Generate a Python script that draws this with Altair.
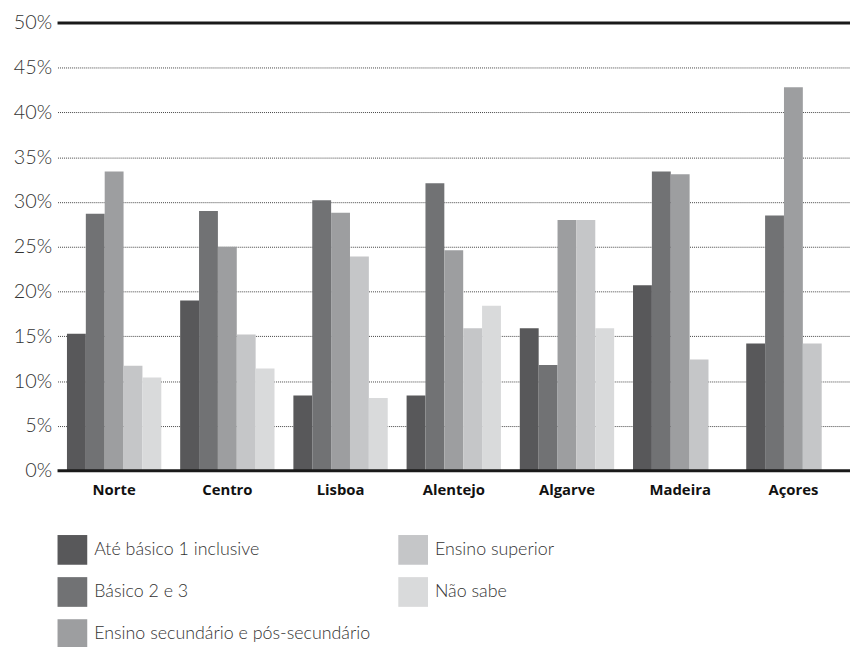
import altair as alt
import pandas as pd

regioes = ["Norte", "Centro", "Lisboa", "Alentejo", "Algarve", "Madeira", "Açores"]
series = ["Até básico 1 inclusive", "Básico 2 e 3", "Ensino secundário e pós-secundário",
          "Ensino superior", "Não sabe"]
cores = ["#58585a", "#717274", "#9d9ea0", "#c5c6c8", "#d9dadb"]

ate_basico1 = [15.3, 19.0, 8.4, 8.4, 15.9, 20.7, 14.2]
basico23 = [28.7, 29.0, 30.2, 32.1, 11.8, 33.4, 28.5]
secundario = [33.4, 25.0, 28.8, 24.6, 28.0, 33.1, 42.8]
superior = [11.7, 15.2, 23.9, 15.9, 28.0, 12.4, 14.2]
nao_sabe = [10.4, 11.4, 8.1, 18.4, 15.9, None, None]

y_ticks = [0, 5, 10, 15, 20, 25, 30, 35, 40, 45, 50]
linhas_fortes = [0, 50]

rows = []
for s, vals in zip(series, [ate_basico1, basico23, secundario, superior, nao_sabe]):
    for r, v in zip(regioes, vals):
        if v is not None:
            rows.append({"Região": r, "Escolaridade": s, "Valor": v})
df = pd.DataFrame(rows)

yscale = alt.Scale(domain=[0, 50], nice=False)

bars = alt.Chart(df).mark_bar().encode(
    x=alt.X("Região:N", sort=regioes, title=None,
            scale=alt.Scale(paddingInner=0.1667, paddingOuter=0.0833),
            axis=alt.Axis(labelAngle=0, labelFont="Open Sans", labelFontWeight="bold",
                          labelFontSize=15, labelColor="#111", ticks=False, domain=False,
                          labelPadding=12)),
    xOffset=alt.XOffset("Escolaridade:N", sort=series,
                        scale=alt.Scale(paddingInner=0, paddingOuter=0)),
    y=alt.Y("Valor:Q", scale=yscale, title=None,
            axis=alt.Axis(values=y_ticks, labelExpr="datum.value + '%'", ticks=False,
                          domain=False, labelFont="Lato", labelFontWeight=300,
                          labelFontSize=20, labelColor="#333", labelPadding=6,
                          grid=True, gridDash=[1, 1], gridColor="#444", gridWidth=1)),
    color=alt.Color("Escolaridade:N",
                    scale=alt.Scale(domain=series, range=cores),
                    legend=alt.Legend(title=None, orient="none", legendX=0, legendY=517,
                                      columns=2, columnPadding=28, rowPadding=12.5,
                                      symbolType="square", symbolSize=900,
                                      symbolStrokeWidth=0, symbolOpacity=1,
                                      labelFont="Lato", labelFontWeight=300,
                                      labelFontSize=18, labelColor="#333",
                                      labelOffset=7, labelLimit=400)),
)

rules = alt.Chart(pd.DataFrame({"v": linhas_fortes})).mark_rule(
    color="#1a1a1a", strokeWidth=3
).encode(y=alt.Y("v:Q", scale=yscale))

chart = alt.layer(bars, rules).properties(
    width=800, height=452,
    autosize=alt.AutoSizeParams(type="none"),
    padding={"left": 50, "top": 12, "right": 0, "bottom": 175},
).configure_view(stroke=None)

chart.save("out.html", embed_options={"renderer": "svg", "actions": False})
